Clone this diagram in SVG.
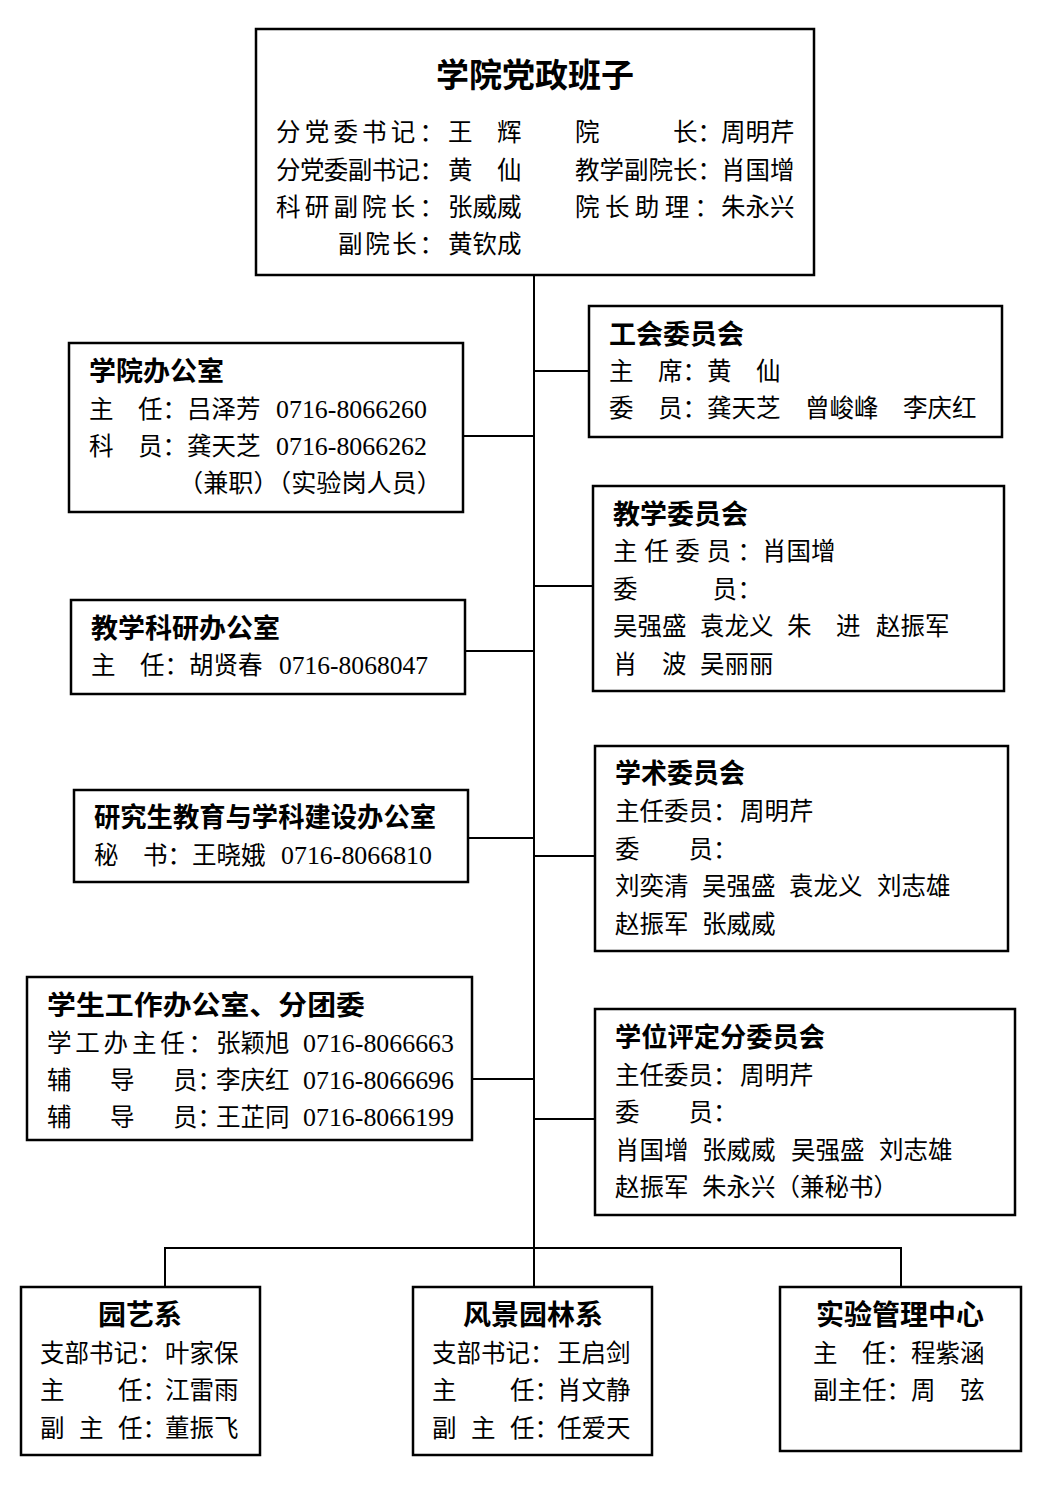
<svg xmlns="http://www.w3.org/2000/svg" width="1045" height="1490" viewBox="0 0 1045 1490">
<style>
.bx{fill:#fff;stroke:#000;stroke-width:2.5}
.ln{stroke:#000;stroke-width:2;fill:none}
text{font-family:"Liberation Serif","Noto Sans CJK SC",serif;fill:#000}
.t{font-size:24.5px}
.h{font-size:27px;font-weight:bold}
.hb{font-size:28px;font-weight:bold}
.ht{font-size:33px;font-weight:bold}
.n{font-family:"Liberation Serif",serif}
</style>
<rect width="1045" height="1490" fill="#fff"/>
<g id="connectors">
<path class="ln" d="M534 275V1248"/>
<path class="ln" d="M534 371H589M463 436H534M534 586H593M465 651H534M468 838H534M534 856H595M473 1079H534M534 1119H595"/>
<path class="ln" d="M165 1287V1248H901V1287M534 1248V1287"/>
</g>
<g id="top">
<rect class="bx" x="256" y="29" width="558" height="246"/>
<text class="ht" x="535" y="87" text-anchor="middle">学院党政班子</text>
<text class="t" x="276" y="141" textLength="168" lengthAdjust="spacing">分党委书记：</text>
<text class="t" x="448" y="141">王　辉</text>
<text class="t" x="575" y="141">院　　　长：</text>
<text class="t" x="721" y="141">周明芹</text>
<text class="t" x="276" y="179" textLength="168" lengthAdjust="spacing">分党委副书记：</text>
<text class="t" x="448" y="179">黄　仙</text>
<text class="t" x="575" y="179">教学副院长：</text>
<text class="t" x="721" y="179">肖国增</text>
<text class="t" x="276" y="216" textLength="168" lengthAdjust="spacing">科研副院长：</text>
<text class="t" x="448" y="216">张威威</text>
<text class="t" x="575" y="216" textLength="144" lengthAdjust="spacing">院长助理：</text>
<text class="t" x="721" y="216">朱永兴</text>
<text class="t" x="338" y="253" textLength="106" lengthAdjust="spacing">副院长：</text>
<text class="t" x="448" y="253">黄钦成</text>
</g>
<g id="gonghui">
<rect class="bx" x="589" y="306" width="413" height="131"/>
<text class="h" x="609" y="344">工会委员会</text>
<text class="t" x="609" y="380">主　席：黄　仙</text>
<text class="t" x="609" y="417">委　员：龚天芝　曾峻峰　李庆红</text>
</g>
<g id="office">
<rect class="bx" x="69" y="343" width="394" height="169"/>
<text class="h" x="89" y="381">学院办公室</text>
<text class="t" x="89" y="418">主　任：吕泽芳 <tspan class="n" x="276" textLength="151" lengthAdjust="spacingAndGlyphs">0716-8066260</tspan></text>
<text class="t" x="89" y="455">科　员：龚天芝 <tspan class="n" x="276" textLength="151" lengthAdjust="spacingAndGlyphs">0716-8066262</tspan></text>
<text class="t" x="178" y="492" textLength="264" lengthAdjust="spacingAndGlyphs">（兼职）（实验岗人员）</text>
</g>
<g id="jiaoxue">
<rect class="bx" x="593" y="486" width="411" height="205"/>
<text class="h" x="613" y="524">教学委员会</text>
<text class="t" x="613" y="560" textLength="149" lengthAdjust="spacing">主任委员：</text>
<text class="t" x="762" y="560">肖国增</text>
<text class="t" x="613" y="598" textLength="149" lengthAdjust="spacing">委　　　员：</text>
<text class="t" y="635"><tspan x="613">吴强盛</tspan><tspan x="700">袁龙义</tspan><tspan x="787">朱　进</tspan><tspan x="876">赵振军</tspan></text>
<text class="t" y="673"><tspan x="613">肖　波</tspan><tspan x="700">吴丽丽</tspan></text>
</g>
<g id="jiaoke">
<rect class="bx" x="71" y="600" width="394" height="94"/>
<text class="h" x="91" y="638">教学科研办公室</text>
<text class="t" x="91" y="674">主　任：胡贤春 <tspan class="n" x="279" textLength="149" lengthAdjust="spacingAndGlyphs">0716-8068047</tspan></text>
</g>
<g id="yanjiusheng">
<rect class="bx" x="74" y="790" width="394" height="92"/>
<text class="h" x="94" y="827" textLength="342" lengthAdjust="spacingAndGlyphs">研究生教育与学科建设办公室</text>
<text class="t" x="94" y="864">秘　书：王晓娥 <tspan class="n" x="281" textLength="151" lengthAdjust="spacingAndGlyphs">0716-8066810</tspan></text>
</g>
<g id="xueshu">
<rect class="bx" x="595" y="746" width="413" height="205"/>
<text class="h" x="615" y="783" textLength="130" lengthAdjust="spacingAndGlyphs">学术委员会</text>
<text class="t" x="615" y="820">主任委员：</text>
<text class="t" x="740" y="820">周明芹</text>
<text class="t" x="615" y="858">委　　员：</text>
<text class="t" y="895"><tspan x="615">刘奕清</tspan><tspan x="702">吴强盛</tspan><tspan x="789">袁龙义</tspan><tspan x="877">刘志雄</tspan></text>
<text class="t" y="933"><tspan x="615">赵振军</tspan><tspan x="702">张威威</tspan></text>
</g>
<g id="xuegong">
<rect class="bx" x="27" y="977" width="445" height="163"/>
<text class="h" x="47" y="1015" textLength="318" lengthAdjust="spacingAndGlyphs">学生工作办公室、分团委</text>
<text class="t" x="47" y="1052" textLength="166" lengthAdjust="spacing">学工办主任：</text>
<text class="t" x="216" y="1052">张颖旭 <tspan class="n" x="303" textLength="151" lengthAdjust="spacingAndGlyphs">0716-8066663</tspan></text>
<text class="t" x="47 110 173 197.5" y="1089">辅导员：</text>
<text class="t" x="216" y="1089">李庆红 <tspan class="n" x="303" textLength="151" lengthAdjust="spacingAndGlyphs">0716-8066696</tspan></text>
<text class="t" x="47 110 173 197.5" y="1126">辅导员：</text>
<text class="t" x="216" y="1126">王芷同 <tspan class="n" x="303" textLength="151" lengthAdjust="spacingAndGlyphs">0716-8066199</tspan></text>
</g>
<g id="xuewei">
<rect class="bx" x="595" y="1009" width="420" height="206"/>
<text class="h" x="615" y="1047" textLength="210" lengthAdjust="spacingAndGlyphs">学位评定分委员会</text>
<text class="t" x="615" y="1084">主任委员：</text>
<text class="t" x="740" y="1084">周明芹</text>
<text class="t" x="615" y="1121">委　　员：</text>
<text class="t" y="1159"><tspan x="615">肖国增</tspan><tspan x="702">张威威</tspan><tspan x="791">吴强盛</tspan><tspan x="879">刘志雄</tspan></text>
<text class="t" y="1196"><tspan x="615">赵振军</tspan><tspan x="702">朱永兴（兼秘书）</tspan></text>
</g>
<g id="yuanyi">
<rect class="bx" x="21" y="1287" width="239" height="168"/>
<text class="hb" x="140" y="1325" text-anchor="middle">园艺系</text>
<text class="t" x="40" y="1362">支部书记：</text>
<text class="t" x="165" y="1362">叶家保</text>
<text class="t" x="40 118 142.5" y="1399">主任：</text>
<text class="t" x="165" y="1399">江雷雨</text>
<text class="t" x="40 79 118 142.5" y="1437">副主任：</text>
<text class="t" x="165" y="1437">董振飞</text>
</g>
<g id="fengjing">
<rect class="bx" x="413" y="1287" width="239" height="168"/>
<text class="hb" x="533" y="1325" text-anchor="middle">风景园林系</text>
<text class="t" x="432" y="1362">支部书记：</text>
<text class="t" x="557" y="1362">王启剑</text>
<text class="t" x="432 510 534.5" y="1399">主任：</text>
<text class="t" x="557" y="1399">肖文静</text>
<text class="t" x="432 471 510 534.5" y="1437">副主任：</text>
<text class="t" x="557" y="1437">任爱天</text>
</g>
<g id="shiyan">
<rect class="bx" x="780" y="1287" width="241" height="164"/>
<text class="hb" x="900" y="1325" text-anchor="middle">实验管理中心</text>
<text class="t" x="813" y="1362">主　任：程紫涵</text>
<text class="t" x="813" y="1399">副主任：周　弦</text>
</g>
</svg>
